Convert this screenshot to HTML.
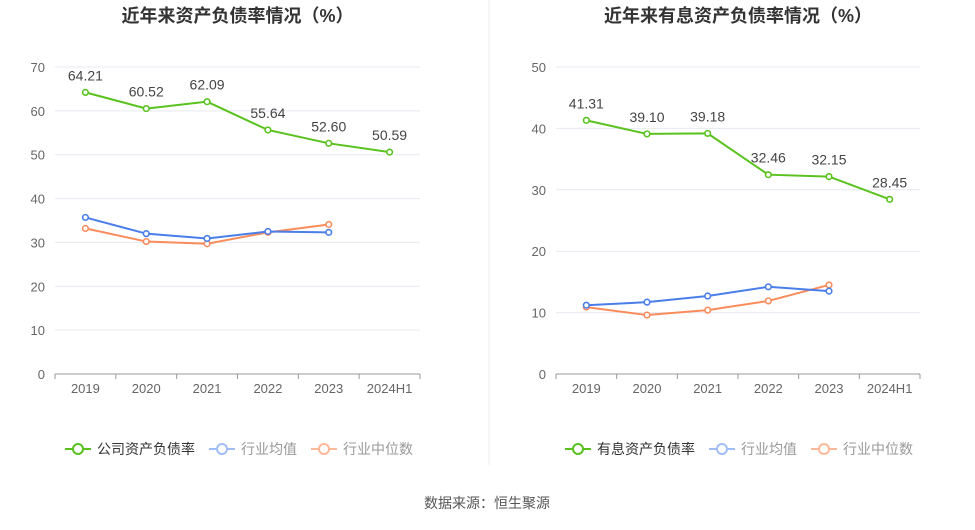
<!DOCTYPE html>
<html><head><meta charset="utf-8">
<style>
body{margin:0;background:#fff;font-family:"Liberation Sans","Noto Sans CJK SC",sans-serif;}
svg text{font-family:"Liberation Sans","Noto Sans CJK SC",sans-serif;}
</style></head>
<body>
<svg id="c" width="975" height="525" viewBox="0 0 975 525" xmlns="http://www.w3.org/2000/svg">
<line x1="489" y1="0" x2="489" y2="465" stroke="#eeeeee"/>
<text x="487" y="508" text-anchor="middle" font-size="14" fill="#555">数据来源：恒生聚源</text>
</svg>
<script>
const categories=["2019","2020","2021","2022","2023","2024H1"];
const leftCompany=[64.21,60.52,62.09,55.64,52.60,50.59];
const leftAvg=[35.7,32.0,30.9,32.5,32.3];
const leftMedian=[33.2,30.2,29.7,32.3,34.1];
const leftTicks=[0,10,20,30,40,50,60,70];
const rightCompany=[41.31,39.10,39.18,32.46,32.15,28.45];
const rightAvg=[11.2,11.7,12.7,14.2,13.5];
const rightMedian=[10.9,9.6,10.4,11.9,14.5];
const rightTicks=[0,10,20,30,40,50];

const svg=document.getElementById('c');
const NS="http://www.w3.org/2000/svg";
function mk(tag,attrs,parent){const e=document.createElementNS(NS,tag);for(const k in attrs)e.setAttribute(k,attrs[k]);(parent||svg).appendChild(e);return e;}

function chart(opt){
  const g=mk('g',{});
  
  
  const x0=opt.x0,x1=opt.x1,yTop=67,yBot=374,max=opt.ticks[opt.ticks.length-1];
  const step=(x1-x0)/categories.length;
  const xs=i=>x0+step*(i+0.5);
  const ys=v=>yBot-(v/max)*(yBot-yTop);
  const t=mk('text',{x:(x0+x1)/2,y:22,'text-anchor':'middle','font-size':18,'font-weight':'bold',fill:'#333'},g);
  t.textContent=opt.title;
  
  
  opt.ticks.forEach(v=>{
    const l=mk('line',{x1:x0,x2:x1,y1:ys(v),y2:ys(v),stroke:v===0?'#999':'#e6e9f0'},g);
    
    
    const tx=mk('text',{x:x0-10,y:ys(v)+5,'text-anchor':'end','font-size':13,fill:'#666'},g);
    tx.textContent=v;
    
    
  });
  categories.forEach((c,i)=>{
    mk('line',{x1:x0+step*i,x2:x0+step*i,y1:yBot,y2:yBot+5,stroke:'#999'},g);
    const tx=mk('text',{x:xs(i),y:yBot+19,'text-anchor':'middle','font-size':13,fill:'#666'},g);
    tx.textContent=c;
    
    
  });
  mk('line',{x1:x1,x2:x1,y1:yBot,y2:yBot+5,stroke:'#999'},g);
  const series=[[opt.median,'#fa8c5c','median-line'],[opt.avg,'#4a7ee8','average-line'],[opt.company,'#5ac21e','company-line']];
  series.forEach(([d,col,nm])=>{
    const p=mk('polyline',{points:d.map((v,i)=>xs(i)+','+ys(v)).join(' '),fill:'none',stroke:col,'stroke-width':2},g);
    
    
    d.forEach((v,i)=>{
      const c=mk('circle',{cx:xs(i),cy:ys(v),r:2.8,fill:'#fff',stroke:col,'stroke-width':1.6},g);
      
      
    });
  });
  opt.company.forEach((v,i)=>{
    const tx=mk('text',{x:xs(i),y:ys(v)-12,'text-anchor':'middle','font-size':14,fill:'#444'},g);
    tx.textContent=v.toFixed(2);
    
    
  });
  const leg=[[opt.legend0,'#5ac21e'],['行业均值','#a0bdf5'],['行业中位数','#fbb99a']];
  let lx=opt.legX;
  leg.forEach(([txt,col],k)=>{
    const lg=mk('g',{},g);
    
    
    mk('line',{x1:lx,x2:lx+26,y1:449,y2:449,stroke:col,'stroke-width':2},lg);
    mk('circle',{cx:lx+13,cy:449,r:5,fill:'#fff',stroke:col,'stroke-width':2},lg);
    const tx=mk('text',{x:lx+32,y:454,'font-size':14,fill:k===0?'#333':'#999'},lg);
    tx.textContent=txt;
    lx+=32+txt.length*14+14;
  });
}
chart({name:'left-chart',title:'近年来资产负债率情况（%）',x0:55,x1:420,ticks:leftTicks,company:leftCompany,avg:leftAvg,median:leftMedian,legend0:'公司资产负债率',legX:65});
chart({name:'right-chart',title:'近年来有息资产负债率情况（%）',x0:556,x1:920,ticks:rightTicks,company:rightCompany,avg:rightAvg,median:rightMedian,legend0:'有息资产负债率',legX:565});
</script>
</body></html>
